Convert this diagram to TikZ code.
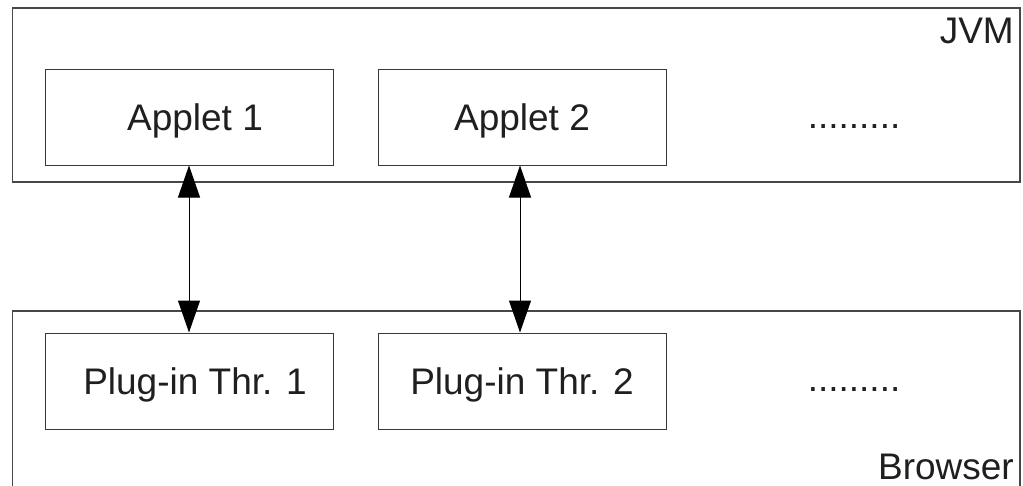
\documentclass[tikz,border=0pt]{standalone}
\usepackage{fontspec}
\setmainfont{Liberation Sans}
\usetikzlibrary{arrows.meta}
\begin{document}
\begin{tikzpicture}[x=1pt,y=-1pt,
  every node/.style={font=\fontsize{37pt}{44pt}\selectfont, text=black!88},
  container/.style={draw=black!72, line width=1.1pt},
  tag/.style={anchor=base east, inner sep=0pt},
  inbox/.style={draw=black!78, line width=1pt, minimum width=288pt, minimum height=96pt, inner sep=0pt, text height=26.5pt, text depth=0pt},
  link/.style={line width=1pt, {Triangle[length=32pt,width=22pt]}-{Triangle[length=32pt,width=22pt]}}
]
\useasboundingbox (0,0) rectangle (1023,485);
\path[fill=white] (0,0) rectangle (1023,485);
% containers
\draw[container] (12.5,8) rectangle (1020,182);
\draw[container] (12.5,500) -- (12.5,311) -- (1020,311) -- (1020,500);
\node[tag] (jvm) at (1014,43) {JVM};
\node[tag] (browser) at (1014,479.5) {Browser};
% inner boxes
\node[inbox] (a1) at (189,117) {\hspace*{12pt}Applet 1};
\node[inbox] (a2) at (522,117) {Applet 2};
\node[anchor=base] (ad) at (854,128) {.........};
\node[inbox] (p1) at (189,381) {\hspace*{12pt}Plug-in Thr. 1};
\node[inbox] (p2) at (522,381) {Plug-in Thr. 2};
\node[anchor=base] (pd) at (854,391) {.........};
% connectors
\draw[link] (a1.south) -- (p1.north);
\draw[link] (a2.south -| 520,0) -- (p2.north -| 520,0);
\end{tikzpicture}
\end{document}
